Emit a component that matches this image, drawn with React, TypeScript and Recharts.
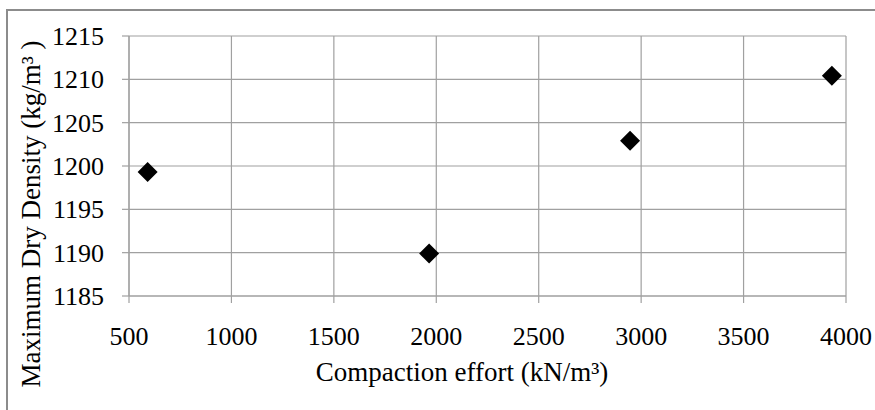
import React from "react";
import { ScatterChart, Scatter, XAxis, YAxis, CartesianGrid, Label } from "recharts";

const efforts = [591, 1965, 2946, 3931];
const densities = [1199.3, 1189.9, 1202.9, 1210.4];
const xTicks = [500, 1000, 1500, 2000, 2500, 3000, 3500, 4000];
const yTicks = [1185, 1190, 1195, 1200, 1205, 1210, 1215];
const xTitle = "Compaction effort (kN/m\u00B3)";
const yTitle = "Maximum Dry Density (kg/m\u00B3 )";

const data = efforts.map((x, i) => ({ x, y: densities[i] }));

const FONT = "Liberation Serif";
const GRID = "#a0a0a0";

const Diamond = (props: any) => {
  const { cx, cy } = props;
  const r = 10;
  return (
    <polygon
      points={`${cx},${cy - r} ${cx + r},${cy} ${cx},${cy + r} ${cx - r},${cy}`}
      fill="#000"
    />
  );
};

const XTick = (props: any) => {
  const { x, y, payload } = props;
  return (
    <text x={x} y={y + 19} textAnchor="middle" fontSize={26} fill="#000" style={{ fontFamily: FONT }}>
      {payload.value}
    </text>
  );
};

const YTick = (props: any) => {
  const { x, y, payload } = props;
  return (
    <text x={x} y={y + 9} textAnchor="end" fontSize={26} fill="#000" style={{ fontFamily: FONT }}>
      {payload.value}
    </text>
  );
};

export default function App() {
  return (
    <div
      style={{
        position: "fixed",
        left: 0,
        top: 0,
        width: 875,
        height: 410,
        overflow: "hidden",
        background: "#fff",
      }}
    >
      <div
        style={{
          position: "absolute",
          left: 6,
          top: 9,
          width: 1000,
          height: 1000,
          border: "2px solid #8c8c8c",
        }}
      />
      <div style={{ position: "absolute", left: 0, top: 0 }}>
        <ScatterChart
          width={875}
          height={410}
          margin={{ top: 36, right: 29, left: 0, bottom: 0 }}
        >
          <CartesianGrid stroke={GRID} strokeWidth={1.2} />
          <XAxis
            type="number"
            dataKey="x"
            domain={[500, 4000]}
            ticks={xTicks}
            interval={0}
            height={114}
            tickSize={7}
            tickMargin={23}
            axisLine={{ stroke: GRID, strokeWidth: 1.2 }}
            tickLine={{ stroke: GRID, strokeWidth: 1.2 }}
            tick={<XTick />}
          >
            <Label
              content={() => (
                <text
                  x={462}
                  y={381}
                  textAnchor="middle"
                  fontSize={27}
                  fill="#000"
                  style={{ fontFamily: FONT }}
                >
                  {xTitle}
                </text>
              )}
            />
          </XAxis>
          <YAxis
            type="number"
            dataKey="y"
            domain={[1185, 1215]}
            ticks={yTicks}
            interval={0}
            width={129}
            tickSize={7}
            tickMargin={18}
            axisLine={{ stroke: GRID, strokeWidth: 1.2 }}
            tickLine={{ stroke: GRID, strokeWidth: 1.2 }}
            tick={<YTick />}
          >
            <Label
              content={() => (
                <text
                  x={31}
                  y={214}
                  transform="rotate(-90 31 214)"
                  textAnchor="middle"
                  dominantBaseline="central"
                  fontSize={27}
                  fill="#000"
                  style={{ fontFamily: FONT }}
                >
                  {yTitle}
                </text>
              )}
            />
          </YAxis>
          <Scatter data={data} shape={<Diamond />} isAnimationActive={false} />
        </ScatterChart>
      </div>
    </div>
  );
}
